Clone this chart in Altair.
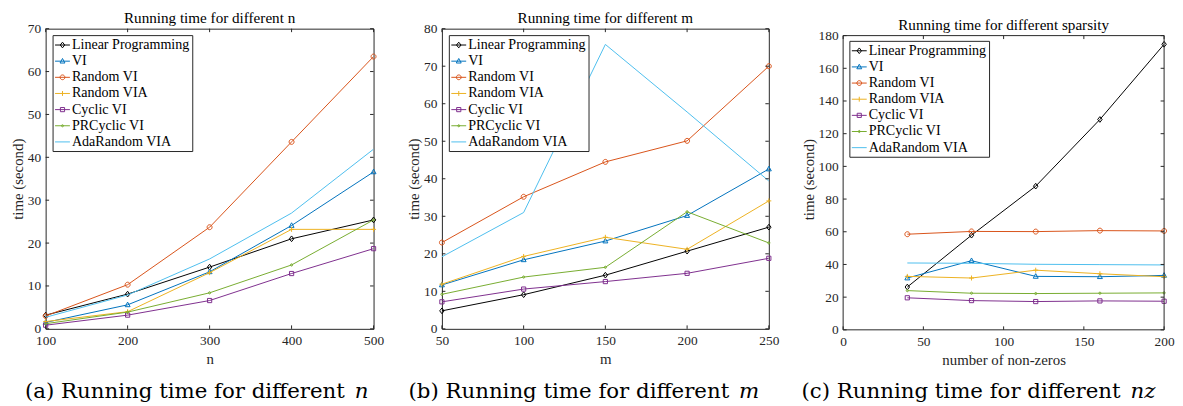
import altair as alt
import pandas as pd

# ---------------- data ----------------
series_names = ["Linear Programming", "VI", "Random VI", "Random VIA",
                "Cyclic VI", "PRCyclic VI", "AdaRandom VIA"]
series_colors = ["#000000", "#0072BD", "#D95319", "#EDB120",
                 "#7E2F8E", "#77AC30", "#4DBEEE"]

# panel (a): different n
n_vals = [100, 200, 300, 400, 500]
a_lp = [3.2, 8.1, 14.4, 21.0, 25.4]
a_vi = [1.5, 5.6, 13.3, 24.1, 36.6]
a_rvi = [3.0, 10.3, 23.7, 43.6, 63.5]
a_rvia = [1.7, 4.0, 13.1, 23.2, 23.2]
a_cvi = [0.85, 3.2, 6.6, 12.9, 18.7]
a_prc = [1.2, 3.9, 8.4, 14.9, 25.4]
a_ada = [2.7, 7.9, 16.3, 27.0, 41.9]

# panel (b): different m
m_vals = [50, 100, 150, 200, 250]
b_lp = [4.8, 9.1, 14.3, 20.7, 27.1]
b_vi = [11.7, 18.4, 23.4, 30.2, 42.6]
b_rvi = [23.0, 35.2, 44.5, 50.1, 70.0]
b_rvia = [11.9, 19.3, 24.4, 21.2, 34.1]
b_cvi = [7.2, 10.6, 12.6, 14.8, 18.8]
b_prc = [9.2, 13.8, 16.4, 31.2, 22.9]
b_ada = [19.2, 31.0, 75.8, 57.8, 39.4]

# panel (c): different sparsity
nz_vals = [40, 80, 120, 160, 200]
c_lp = [26.2, 57.9, 87.9, 128.7, 174.7]
c_vi = [31.7, 42.3, 32.7, 32.5, 33.3]
c_rvi = [58.5, 60.2, 60.1, 60.7, 60.5]
c_rvia = [32.7, 31.7, 36.5, 34.3, 32.5]
c_cvi = [19.6, 17.9, 17.3, 17.7, 17.5]
c_prc = [24.0, 22.4, 22.2, 22.4, 22.6]
c_ada = [40.9, 40.7, 40.1, 39.9, 39.7]

# axis ticks / limits
a_xticks = [100, 200, 300, 400, 500]
a_yticks = [0, 10, 20, 30, 40, 50, 60, 70]
b_xticks = [50, 100, 150, 200, 250]
b_yticks = [0, 10, 20, 30, 40, 50, 60, 70, 80]
c_xticks = [0, 50, 100, 150, 200]
c_yticks = [0, 20, 40, 60, 80, 100, 120, 140, 160, 180]
c_xlim = [0, 200]
c_ylim = [0, 180]

# ---------------- styles ----------------
SERIF = "Liberation Serif"
CAPFONT = "DejaVu Serif"
AXC = "#262626"
TL = 3.5  # inward tick length

marker_paths = [
    "M0,-1.15L0.9,0L0,1.15L-0.9,0Z",                 # diamond
    "M0,-1.1L1,0.75L-1,0.75Z",                       # triangle
    "M1,0A1,1,0,1,1,-1,0A1,1,0,1,1,1,0Z",            # circle
    "M-1,0H1M0,-1V1",                                # plus
    "M-0.85,-0.85H0.85V0.85H-0.85Z",                 # square
    "M0.45,0A0.45,0.45,0,1,1,-0.45,0A0.45,0.45,0,1,1,0.45,0Z",  # dot
    None,                                            # no marker
]
legend_paths = [
    "M-1,0H1M0,-0.38L0.3,0L0,0.38L-0.3,0Z",
    "M-1,0H1M0,-0.36L0.33,0.25L-0.33,0.25Z",
    "M-1,0H1M0.32,0A0.32,0.32,0,1,1,-0.32,0A0.32,0.32,0,1,1,0.32,0Z",
    "M-1,0H1M0,-0.33V0.33",
    "M-1,0H1M-0.28,-0.28H0.28V0.28H-0.28Z",
    "M-1,0H1M0.14,0A0.14,0.14,0,1,1,-0.14,0A0.14,0.14,0,1,1,0.14,0Z",
    "M-1,0H1",
]


def long_df(xs, cols):
    rows = []
    for name, vals in zip(series_names, cols):
        for x, y in zip(xs, vals):
            rows.append({"series": name, "x": x, "y": y})
    return pd.DataFrame(rows)


def panel(df, xdom, xticks, ydom, yticks, w, h, title, title_offset, xtitle,
          cap_main, cap_var, cap_end, cap_y, bL, bR, legx, legy,
          box=None):
    xs = alt.Scale(domain=xdom, nice=False, zero=False)
    ys = alt.Scale(domain=ydom, nice=False, zero=False)
    xax = alt.Axis(values=xticks, title=xtitle, grid=False, ticks=False,
                   domain=False, labelFlush=False, labelPadding=5,
                   titlePadding=4, format="d", labelOverlap=False)
    yax = alt.Axis(values=yticks, title="time (second)", grid=False,
                   ticks=False, domain=False, labelPadding=5,
                   titlePadding=2, format="d", labelOverlap=False)
    XA = alt.X("x:Q", scale=xs, axis=xax)
    YA = alt.Y("y:Q", scale=ys, axis=yax)

    layers = []
    for name, col, path in zip(series_names, series_colors, marker_paths):
        sub = alt.Chart(df).transform_filter(alt.datum.series == name)
        layers.append(sub.mark_line(color=col, strokeWidth=1, clip=True)
                      .encode(x=XA, y=YA))
        if path is not None:
            layers.append(
                sub.mark_point(shape=path, filled=False, stroke=col,
                               strokeWidth=1, size=25, opacity=1)
                .encode(x=XA, y=YA))

    leg = alt.Legend(
        title=None, orient="none", legendX=legx, legendY=legy,
        labelFont=SERIF, labelFontSize=14.2, labelColor="black",
        symbolSize=225, symbolStrokeWidth=1, labelOffset=1.5,
        padding=2, rowPadding=0.3, strokeColor=AXC, fillColor="white",
        cornerRadius=0, symbolOpacity=1)
    legend_layer = alt.Chart(df).transform_filter("false").mark_point(
        filled=False, strokeWidth=1, opacity=1
    ).encode(
        color=alt.Color("series:N", scale=alt.Scale(domain=series_names,
                                                     range=series_colors),
                        legend=leg),
        shape=alt.Shape("series:N", scale=alt.Scale(domain=series_names,
                                                     range=legend_paths),
                        legend=leg),
    )
    layers.append(legend_layer)

    # inward ticks on all four sides
    xt = pd.DataFrame({"x": xticks})
    yt = pd.DataFrame({"y": yticks})
    top_px = 0 if box is None else box["top_px"]
    layers += [
        alt.Chart(xt).mark_rule(color=AXC, strokeWidth=1).encode(
            x=XA, y=alt.value(h), y2=alt.value(h - TL)),
        alt.Chart(xt).mark_rule(color=AXC, strokeWidth=1).encode(
            x=XA, y=alt.value(top_px), y2=alt.value(top_px + TL)),
        alt.Chart(yt).mark_rule(color=AXC, strokeWidth=1).encode(
            y=YA, x=alt.value(0), x2=alt.value(TL)),
        alt.Chart(yt).mark_rule(color=AXC, strokeWidth=1).encode(
            y=YA, x=alt.value(w), x2=alt.value(w - TL)),
    ]
    if box is not None:
        hb = pd.DataFrame({"y": box["ylim"]})
        vb = pd.DataFrame({"x": box["xlim"], "y": [box["ylim"][0]] * 2,
                           "y2": [box["ylim"][1]] * 2})
        layers += [
            alt.Chart(hb).mark_rule(color=AXC, strokeWidth=1).encode(
                y=YA, x=alt.value(0), x2=alt.value(w)),
            alt.Chart(vb).mark_rule(color=AXC, strokeWidth=1).encode(
                x=XA, y=YA, y2="y2:Q"),
        ]

    cap = pd.DataFrame({"t": [cap_main], "v": [cap_var]})
    layers += [
        alt.Chart(cap).mark_text(font=CAPFONT, fontSize=21.5,
                                 align="right", baseline="alphabetic",
                                 color="black").encode(
            text="t:N", x=alt.value(cap_end), y=alt.value(cap_y)),
        alt.Chart(cap).mark_text(font=CAPFONT, fontSize=21.5,
                                 fontStyle="italic", align="left",
                                 baseline="alphabetic",
                                 color="black").encode(
            text="v:N", x=alt.value(cap_end + 10), y=alt.value(cap_y)),
    ]
    # invisible helper fixing the horizontal extent of the panel
    layers.append(
        alt.Chart(pd.DataFrame({"k": [0]})).mark_rule(
            opacity=0, strokeOpacity=0).encode(
            x=alt.value(-bL), x2=alt.value(w + bR), y=alt.value(h / 2))
    )

    props = dict(
        width=w, height=h,
        title=alt.TitleParams(title, font=SERIF, fontSize=15.3,
                              fontWeight="normal", color="black",
                              offset=title_offset, anchor="middle",
                              frame="group"),
    )
    if box is not None:
        props["view"] = alt.ViewBackground(stroke=None)
    return alt.layer(*layers).properties(**props)


df_a = long_df(n_vals, [a_lp, a_vi, a_rvi, a_rvia, a_cvi, a_prc, a_ada])
df_b = long_df(m_vals, [b_lp, b_vi, b_rvi, b_rvia, b_cvi, b_prc, b_ada])
df_c = long_df(nz_vals, [c_lp, c_vi, c_rvi, c_rvia, c_cvi, c_prc, c_ada])

H = 303
pa = panel(df_a, [100, 500], a_xticks, [0, 70], a_yticks, 331, H,
           "Running time for different n", -4.7, "n",
           "(a) Running time for different", "n", 302, 373, 37, 12, 7, 6.5)
pb = panel(df_b, [50, 250], b_xticks, [0, 80], b_yticks, 330, H,
           "Running time for different m", -4.7, "m",
           "(b) Running time for different", "m", 290, 373, 55, 12, 7, 6.5)

# panel (c): its box starts 7px lower than the others
HC = 304
c_top_px = 7
c_ymax = c_ylim[1] * HC / (HC - c_top_px)
pc = panel(df_c, [0, 200], c_xticks, [0, c_ymax], c_yticks, 324, HC,
           "Running time for different sparsity", -4.7, "number of non-zeros",
           "(c) Running time for different", "nz", 280, 373, 62, 4, 6.3, 12.3,
           box={"xlim": c_xlim, "ylim": c_ylim, "top_px": c_top_px})

chart = alt.hconcat(pa, pb, pc, spacing=0).resolve_scale(
    color="independent", shape="independent"
).properties(
    padding=0, background="white"
).configure_view(
    stroke=AXC, strokeWidth=1
).configure_axis(
    labelFont=SERIF, labelFontSize=13.5, labelColor=AXC,
    titleFont=SERIF, titleFontSize=15, titleColor=AXC,
    titleFontWeight="normal"
)

chart.save("out.html", embed_options={"renderer": "svg", "actions": False})
